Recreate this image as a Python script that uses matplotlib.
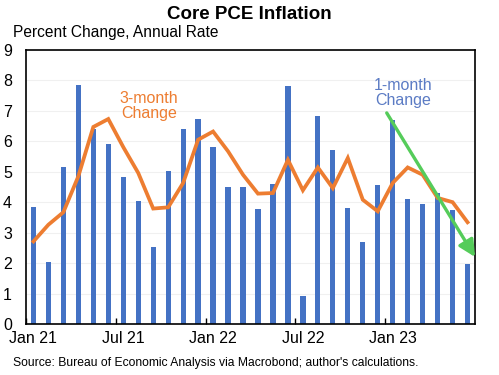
import numpy as np
import matplotlib
matplotlib.use('Agg')
import matplotlib.pyplot as plt

plt.rcParams['font.family'] = ['Liberation Sans', 'DejaVu Sans']

# ----------------------------
# Data: Core PCE inflation, Jan 2021 - Jun 2023 (annualised %)
# ----------------------------
months = ['Jan 21', 'Feb 21', 'Mar 21', 'Apr 21', 'May 21', 'Jun 21',
          'Jul 21', 'Aug 21', 'Sep 21', 'Oct 21', 'Nov 21', 'Dec 21',
          'Jan 22', 'Feb 22', 'Mar 22', 'Apr 22', 'May 22', 'Jun 22',
          'Jul 22', 'Aug 22', 'Sep 22', 'Oct 22', 'Nov 22', 'Dec 22',
          'Jan 23', 'Feb 23', 'Mar 23', 'Apr 23', 'May 23', 'Jun 23']
one_month = [3.84, 2.03, 5.15, 7.86, 6.40, 5.92, 4.82, 4.03, 2.53, 5.01,
             6.40, 6.73, 5.81, 4.50, 4.50, 3.77, 4.60, 7.80, 0.91, 6.82,
             5.72, 3.81, 2.69, 4.57, 6.70, 4.10, 3.95, 4.30, 3.75, 1.97]
three_month = [2.71, 3.26, 3.67, 4.85, 6.47, 6.73, 5.81, 4.96, 3.79, 3.83,
               4.63, 6.05, 6.32, 5.67, 4.90, 4.28, 4.30, 5.39, 4.39, 5.14,
               4.46, 5.45, 4.08, 3.70, 4.63, 5.14, 4.90, 4.14, 4.00, 3.34]
tick_labels = ['Jan 21', 'Jul 21', 'Jan 22', 'Jul 22', 'Jan 23']

blue = '#4472C4'
orange = '#ED7D31'
green = '#55CC5A'

fig = plt.figure(figsize=(4.99, 3.75), dpi=100)
ax = fig.add_axes([0.052, 0.136, 0.9, 0.731])

x = np.arange(len(months)) + 0.5
ax.bar(x, one_month, width=0.35, color=blue, zorder=2)
ax.plot(x, three_month, color=orange, lw=2.7, zorder=3, solid_joinstyle='miter')

ax.set_xlim(0, len(months))
ax.set_ylim(0, 9)
ax.set_yticks(range(10))
ax.yaxis.grid(True, color='#f0f0f0', lw=0.8, zorder=0)
ax.tick_params(axis='y', length=0, pad=10, labelsize=11.5)

# ticks at month boundaries, labels centred on the first bar of the month
major = [months.index(m) for m in tick_labels]
ax.set_xticks(major)
ax.set_xticklabels([])
ax.tick_params(axis='x', which='major', direction='in', length=4, width=1)
ax.set_xticks([m + 0.5 for m in major], minor=True)
ax.set_xticklabels(tick_labels, minor=True)
ax.tick_params(axis='x', which='minor', length=0, pad=5, labelsize=11.5)

for s in ax.spines.values():
    s.set_linewidth(1.2)
    s.set_color('black')

ax.text(8.2, 7.15, '3-month\nChange', color=orange, fontsize=11.5,
        ha='center', va='center', linespacing=1.0)
ax.text(25.2, 7.6, '1-month\nChange', color='#5B7BC4', fontsize=11.5,
        ha='center', va='center', linespacing=1.0)

ax.annotate('', xy=(30.0, 2.2), xytext=(24.1, 6.93),
            arrowprops=dict(arrowstyle='-|>,head_length=1.0,head_width=0.5',
                            color=green, lw=2.4, shrinkA=0, shrinkB=0),
            annotation_clip=False, zorder=4)

fig.text(0.5, 0.962, 'Core PCE Inflation', fontsize=13.5, fontweight='bold',
         ha='center', va='center')
fig.text(0.026, 0.914, 'Percent Change, Annual Rate', fontsize=11.2,
         ha='left', va='center')
fig.text(0.026, 0.032, "Source: Bureau of Economic Analysis via Macrobond; author's calculations.",
         fontsize=8.7, ha='left', va='center')

fig.savefig('out.png', dpi=100)
